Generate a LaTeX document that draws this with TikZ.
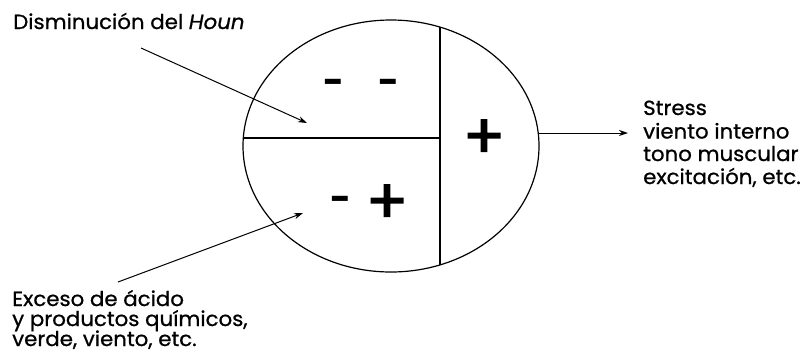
\documentclass[tikz,border=0pt]{standalone}
\usepackage{fontspec}
\setmainfont{Poppins}[FakeBold=0.8,FakeStretch=1.04]
\newfontfamily\signfont{Poppins}[FakeBold=0]
\newfontfamily\plusfont{Poppins}[FakeBold=2.2]
\usetikzlibrary{shapes.geometric,arrows.meta}
\tikzset{
  lbl/.style={anchor=base west, inner sep=0pt, font=\fontsize{20.5}{23}\selectfont},
  minus/.style={inner sep=0pt, font=\signfont\bfseries\fontsize{36}{36}\selectfont},
  plus/.style={inner sep=0pt, font=\plusfont\fontsize{62}{62}\selectfont},
  arr/.style={line width=1pt, -{Stealth[length=9pt,width=6pt]}},
  ln/.style={line width=1.3pt}
}
\begin{document}
\begin{tikzpicture}[x=1pt,y=-1pt]
\useasboundingbox (0,0) rectangle (801,360);
\node[draw, ellipse, line width=1.2pt, minimum width=296pt, minimum height=252pt, inner sep=0pt] (e) at (391,146) {};
\coordinate (hl) at (243.3,138);
\coordinate (hr) at (440,138);
\coordinate (vt) at (440,27);
\coordinate (vb) at (440,265);
\draw[ln] (hl) -- (hr);
\draw[ln] (vt) -- (vb);
\node[minus] (m1) at (334,87) {-};
\node[minus] (m2) at (389,87) {-};
\node[plus] (p1) at (484,139) {+};
\node[minus] (m3) at (341,204) {-};
\node[plus] (p2) at (387,204) {+};
\node[lbl] (t1) at (13,29) {Disminución del \textit{Houn}};
\coordinate (a1s) at (141,48);
\coordinate (a1e) at (307,123);
\draw[arr] (a1s) -- (a1e);
\node[lbl] (b1) at (12,306) {Exceso de ácido};
\node[lbl] (b2) at (12,326) {y productos químicos,};
\node[lbl] (b3) at (12,346) {verde, viento, etc.};
\coordinate (a2s) at (118,282);
\coordinate (a2e) at (303,213);
\draw[arr] (a2s) -- (a2e);
\coordinate (a3s) at (538.2,133);
\coordinate (a3e) at (628,133);
\draw[arr] (a3s) -- (a3e);
\node[lbl] (r1) at (643,115) {Stress};
\node[lbl] (r2) at (643,138.5) {viento interno};
\node[lbl] (r3) at (643,161) {tono muscular};
\node[lbl] (r4) at (643,184) {excitación, etc.};
\end{tikzpicture}
\end{document}
